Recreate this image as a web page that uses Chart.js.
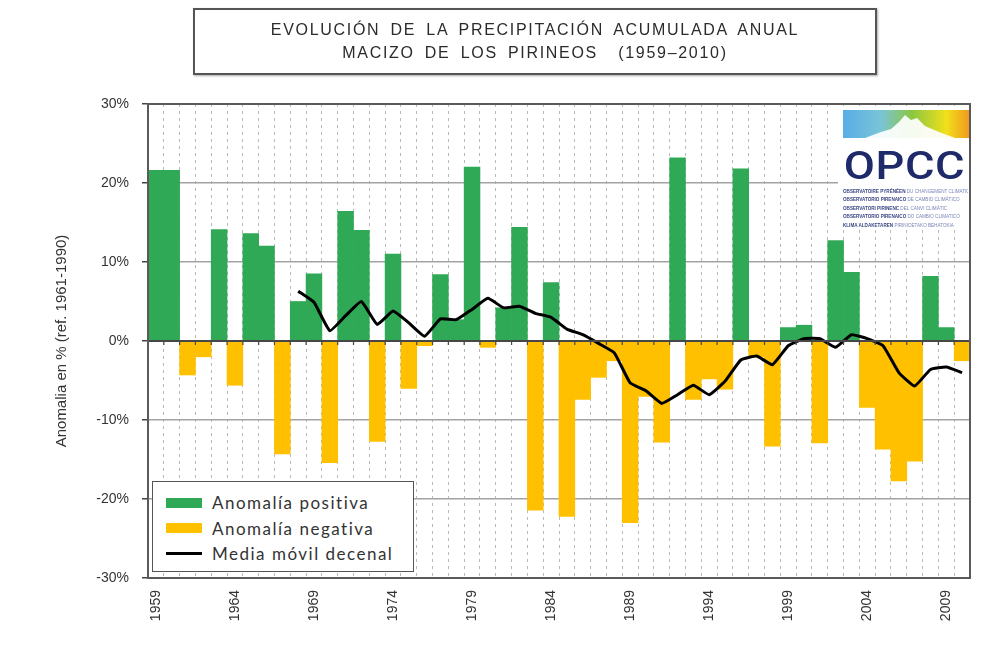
<!DOCTYPE html>
<html lang="es">
<head>
<meta charset="utf-8">
<title>Evolución de la precipitación acumulada anual - Pirineos</title>
<script src="https://cdn.jsdelivr.net/npm/chart.js@4.4.1/dist/chart.umd.min.js"></script>
<style>
  html, body { margin: 0; padding: 0; background: #fff; }
  #wrap { position: relative; width: 1000px; height: 659px; overflow: hidden; font-family: "Liberation Sans", Arial, sans-serif; }
  #grafico { position: absolute; left: 0; top: 0; }
  .titulo { position: absolute; left: 193px; top: 8px; width: 684px; height: 67px; box-sizing: border-box;
    border: 2px solid #555; box-shadow: 1px 1px 2px #aaa; background: #fff; text-align: center;
    color: #2b2b2b; font-size: 16px; letter-spacing: 1.7px; word-spacing: 4px; line-height: 23px; padding-top: 8px; }
  #leyenda { position: absolute; left: 152px; top: 481px; width: 262px; height: 91px; box-sizing: border-box;
    border: 1.5px solid #555; background: #fff; margin: 0; padding: 8px 0 0 13px;
    font-family: Lato, "Open Sans", sans-serif; font-size: 17px; letter-spacing: 1.5px; color: #333; }
  #leyenda li { list-style: none; height: 25.5px; display: flex; align-items: center; white-space: nowrap; }
  #leyenda .sw { display: inline-block; width: 36px; height: 10px; margin-right: 10px; }
  #leyenda .sw.linea { height: 3px; }
  #logo { position: absolute; left: 838px; top: 106px; width: 131px; height: 122px; background: #fff; }
  #logo svg { position: absolute; left: 5px; top: 4px; }
  #logo .marca { position: absolute; left: 0px; top: 37px; width: 133px; text-align: center;
    font-family: Roboto, Arial, sans-serif; font-weight: 500; font-size: 39px; letter-spacing: 0.5px; color: #1f2a6b;
    transform: scaleX(1.16); }
  #logo .sub { position: absolute; left: 5px; top: 82px; width: 125px; font-size: 4.6px; line-height: 8.4px;
    color: #7b86b8; white-space: nowrap; overflow: hidden; }
  #logo .sub b { color: #3a4584; }
</style>
</head>
<body>
<div id="wrap">
  <canvas id="grafico" width="1000" height="659"></canvas>
  <div class="titulo">EVOLUCIÓN DE LA PRECIPITACIÓN ACUMULADA ANUAL<br>MACIZO DE LOS PIRINEOS &nbsp;(1959–2010)</div>
  <div id="logo">
    <svg width="126" height="28">
      <defs>
        <linearGradient id="degradado" x1="0" x2="1" y1="0" y2="0">
          <stop offset="0" stop-color="#58ade6"/>
          <stop offset="0.3" stop-color="#79c4d8"/>
          <stop offset="0.55" stop-color="#8cc740"/>
          <stop offset="0.82" stop-color="#f1e01b"/>
          <stop offset="1" stop-color="#f29a1f"/>
        </linearGradient>
      </defs>
      <rect width="126" height="28" fill="url(#degradado)"/>
      <polygon points="22,28 38,22 48,19 56,12 62,5 68,10 74,8 82,16 96,22 112,28" fill="#fff" opacity="0.92"/>
    </svg>
    <div class="marca">OPCC</div>
    <div class="sub"><b>OBSERVATOIRE PYRÉNÉEN</b> DU CHANGEMENT CLIMATIQUE<br><b>OBSERVATORIO PIRENAICO</b> DE CAMBIO CLIMÁTICO<br><b>OBSERVATORI PIRINENC</b> DEL CANVI CLIMÀTIC<br><b>OBSERVATORIO PIRENAICO</b> DO CAMBIO CLIMATICO<br><b>KLIMA ALDAKETAREN</b> PIRINIOETAKO BEHATOKIA</div>
  </div>
  <ul id="leyenda"></ul>
</div>
<script>
// años de la serie
const anios = ['1959','1960','1961','1962','1963','1964','1965','1966','1967','1968',
  '1969','1970','1971','1972','1973','1974','1975','1976','1977','1978',
  '1979','1980','1981','1982','1983','1984','1985','1986','1987','1988',
  '1989','1990','1991','1992','1993','1994','1995','1996','1997','1998',
  '1999','2000','2001','2002','2003','2004','2005','2006','2007','2008',
  '2009','2010'];

// anomalía anual en % (ref. 1961-1990)
const anomalia = [21.6, 21.6, -4.3, -2.0, 14.1, -5.6, 13.6, 12.0, -14.3, 5.0,
  8.5, -15.4, 16.4, 14.0, -12.7, 11.0, -6.0, -0.6, 8.4, 2.7,
  22.0, -0.8, 4.2, 14.4, -21.4, 7.4, -22.2, -7.4, -4.6, -2.5,
  -23.0, -7.0, -12.8, 23.2, -7.4, -4.8, -6.1, 21.8, -2.0, -13.3,
  1.7, 2.0, -12.9, 12.7, 8.7, -8.4, -13.7, -17.7, -15.2, 8.2,
  1.7, -2.5];

// media móvil decenal
const mediaMovil = [null, null, null, null, null, null, null, null, null, 6.3,
  4.9, 1.3, 3.2, 5.0, 2.1, 3.8, 2.3, 0.6, 2.8, 2.7,
  4.0, 5.4, 4.2, 4.4, 3.5, 3.0, 1.5, 0.8, -0.3, -1.5,
  -5.3, -6.3, -7.9, -6.8, -5.6, -6.8, -5.1, -2.4, -1.9, -3.0,
  -0.6, 0.3, 0.3, -0.8, 0.8, 0.3, -0.6, -4.0, -5.7, -3.6,
  -3.3, -4.0];

const etiquetasX = ['1959','1964','1969','1974','1979','1984','1989','1994','1999','2004','2009'];
const ticksY = [-30, -20, -10, 0, 10, 20, 30];

const positivos = anomalia.map(v => v > 0 ? v : null);
const negativos = anomalia.map(v => v < 0 ? v : null);

// leyenda en html, dentro del área del gráfico
const leyendaHtml = {
  id: 'leyendaHtml',
  afterUpdate(chart) {
    const ul = document.getElementById('leyenda');
    ul.innerHTML = '';
    chart.data.datasets.forEach(ds => {
      const li = document.createElement('li');
      const sw = document.createElement('span');
      const esLinea = ds.type === 'line';
      sw.className = esLinea ? 'sw linea' : 'sw';
      sw.style.background = esLinea ? ds.borderColor : ds.backgroundColor;
      li.appendChild(sw);
      li.appendChild(document.createTextNode(ds.label));
      ul.appendChild(li);
    });
  }
};

// marco del área y eje en 0
const marcoArea = {
  id: 'marcoArea',
  afterDatasetsDraw(chart) {
    const {ctx, chartArea: a, scales} = chart;
    const y0 = scales.y.getPixelForValue(0);
    const ancho = (a.right - a.left) / anios.length;
    ctx.save();
    ctx.strokeStyle = '#474747';
    ctx.lineWidth = 2;
    ctx.beginPath();
    ctx.moveTo(a.left, y0);
    ctx.lineTo(a.right, y0);
    ctx.stroke();
    ctx.lineWidth = 1.2;
    for (let i = 1; i < anios.length; i++) {
      const x = scales.x.getPixelForValue(i) - ancho / 2;
      ctx.beginPath();
      ctx.moveTo(x, y0 - 1);
      ctx.lineTo(x, y0 + 4);
      ctx.stroke();
    }
    ctx.strokeStyle = '#5a5a5a';
    ctx.lineWidth = 2;
    ctx.strokeRect(a.left, a.top, a.right - a.left, a.bottom - a.top);
    ctx.restore();
  }
};

Chart.defaults.font.family = '"Liberation Sans", Arial, sans-serif';
Chart.defaults.color = '#333';

new Chart(document.getElementById('grafico'), {
  type: 'bar',
  data: {
    labels: anios,
    datasets: [
      { label: 'Anomalía positiva', data: positivos, backgroundColor: '#2fa956',
        grouped: false, categoryPercentage: 1, barPercentage: 1, order: 1 },
      { label: 'Anomalía negativa', data: negativos, backgroundColor: '#ffc000',
        grouped: false, categoryPercentage: 1, barPercentage: 1, order: 1 },
      { type: 'line', label: 'Media móvil decenal', data: mediaMovil, borderColor: '#000',
        backgroundColor: '#000', borderWidth: 3, pointRadius: 0, tension: 0.12, order: 0 }
    ]
  },
  options: {
    responsive: false,
    animation: false,
    devicePixelRatio: 1,
    layout: { padding: { top: 104, right: 30, left: 0, bottom: 0 } },
    plugins: { legend: { display: false }, tooltip: { enabled: false } },
    scales: {
      x: {
        grid: { color: '#b8b8b8', lineWidth: 1, drawTicks: false, offset: true },
        border: { color: '#333', width: 2, dash: [3, 4] },
        ticks: {
          autoSkip: false, minRotation: 90, maxRotation: 90, padding: 12,
          font: { size: 14 },
          callback: (v, i) => etiquetasX.includes(anios[i]) ? anios[i] : ''
        },
        afterFit(scale) { scale.height = 81; }
      },
      y: {
        min: ticksY[0], max: ticksY[ticksY.length - 1],
        ticks: { stepSize: 10, padding: 13, font: { size: 14 }, callback: v => v + '%' },
        grid: { color: '#a3a3a3', lineWidth: 1.5, tickLength: 6, tickColor: '#444' },
        border: { color: '#333', width: 2 },
        title: { display: true, text: 'Anomalia en % (ref. 1961-1990)', font: { size: 15 }, padding: { top: 53 } },
        afterFit(scale) { scale.width = 148; }
      }
    }
  },
  plugins: [leyendaHtml, marcoArea]
});
</script>
</body>
</html>
